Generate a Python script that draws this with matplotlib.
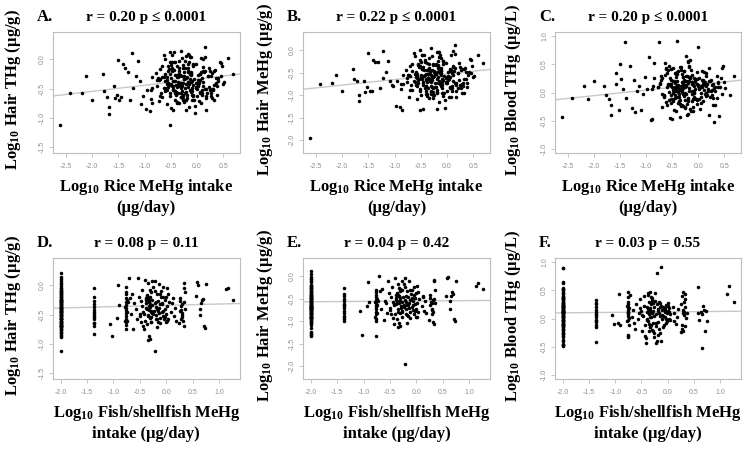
import matplotlib
matplotlib.use("Agg")
import matplotlib.pyplot as plt
from matplotlib.ticker import FormatStrFormatter

# ── data: one entry per subject (log10 values) ───────────────────────────────
rice = [
    -2.62, -2.42, -2.19, -2.12, -2.01, -1.80, -1.78, -1.71, -1.68, -1.68,
    -1.58, -1.57, -1.53, -1.50, -1.48, -1.44, -1.41, -1.38, -1.32, -1.28,
    -1.23, -1.22, -1.17, -1.13, -1.09, -1.06, -1.03,
    -0.52, -0.76, -0.33, -0.12, 0.05, -0.45, -0.27, -0.61, 0.21, -0.38,
    -0.07, -0.69, -0.24, 0.33, -0.52, -0.15, -0.41, -0.88, 0.12, -0.29,
    -0.57, -0.02, -0.98, 0.44, -0.74, -0.19, -0.47, 0.08, -0.36, -0.63,
    -0.09, 0.27, -0.22, -0.95, -0.41, 0.02, -0.55, -0.30, 0.17, -0.90,
    -0.14, -0.49, 0.38, -0.26, -0.78, -0.05, -0.37, 0.11, -0.58, -0.20,
    0.15, 0.52, -0.11, -0.70, -0.31, 0.06, -0.46, -0.17, -0.85, 0.29,
    -0.34, -0.60, -0.03, -0.25, 0.15, -0.51, -0.39, -0.08, -0.72, 0.36,
    -0.28, -0.13, -0.45, 0.00, -0.35,
    -0.42, -0.18, 0.09, -0.58, -0.30, 0.24, -0.66, -0.10, -0.49, 0.40,
    -0.23, -0.37, 0.01,
    -0.20, 0.18, -0.61, -0.05, -0.40,
    -0.22, -0.48, 0.14, -0.35, -0.70, 0.03, -0.15, -0.55, 0.31, -0.42,
    -0.08, -0.27, -0.86, 0.47, -0.32, -0.12, -0.45, 0.10,
    -0.52, -0.18, 0.22, -0.38, -0.02, -0.85, -0.26, 0.05,
    -0.44, -0.10, -0.32, 0.26, -0.58, -0.20, 0.12, -0.47, -0.07, -0.88,
    -0.35, -0.17, 0.06, -0.62, -0.28, 0.35, -0.45, -0.12, -0.73, 0.18,
    -0.39, -0.04, -0.55, -0.21, 0.41, -0.31, -0.66, 0.00, -0.25, -0.48,
    0.23, -0.14, -0.36, -0.09, -0.53, 0.10, -0.29, -0.77, 0.29, -0.19,
    -0.42, -0.02, -0.60, 0.50, -0.24,
    -0.34, 0.02, -0.57, -0.16, 0.00, 0.20, -0.44, -0.27, 0.37, -0.71,
    -0.11, -0.38, 0.08, -0.41, -0.21, -0.30, 0.15, -0.63, -0.08, 0.26,
    -0.52, -0.17, -0.35, 0.04, -0.40,
    -0.26, 0.11, -0.49, -0.13, 0.32, -0.37, -0.02, -0.60, 0.17, -0.23,
    -0.43, 0.06, -0.31, -0.17, 0.45, -0.53, -0.09, 0.25, -0.40, -0.19,
    -0.28, 0.07, -0.45, -0.12, 0.38, -0.66,
    -0.33, 0.01, -0.50, -0.18, 0.28, -0.41, -0.07, -0.26, 0.15, -0.56,
    -0.15, -0.37, 0.09, -0.23, -0.48, 0.04, -0.30, 0.21,
    -0.20, -0.44, 0.12,
    -0.31, 0.31, -0.52, -0.12, 0.32, -0.25, -0.38, 0.60,
    0.45, -0.16, 0.69,
]

fish = [
    -0.22, -2.00, -2.00, -0.73, -2.00, -2.00, -1.37, -2.00, -2.00, -0.35,
    -2.00, -2.00, -0.75, -2.00, -2.00, -1.37, -2.00, -2.00, -0.33, -2.00,
    -2.00, -0.42, -2.00, -0.05, -2.00, -2.00, -0.28,
    -2.00, -2.00, -2.00, -2.00, -2.00, -2.00, -2.00, -2.00, -2.00, -2.00,
    -2.00, -2.00, -2.00, -2.00, -2.00, -2.00, -2.00, -2.00, -2.00, -2.00,
    -2.00, -2.00, -2.00, -2.00, -2.00, -2.00, -2.00, -2.00, -2.00, -2.00,
    -2.00, -2.00, -2.00, -2.00, -2.00, -2.00, -2.00, -2.00, -2.00, -2.00,
    -2.00, -2.00, -2.00, -2.00, -2.00, -2.00, -2.00, -2.00, -2.00, -2.00,
    -2.00, -2.00, -2.00, -2.00, -2.00, -2.00, -2.00, -2.00, -2.00, -2.00,
    -2.00, -2.00, -2.00, -2.00, -2.00, -2.00, -2.00, -2.00, -2.00, -2.00,
    -2.00, -2.00, -2.00, -2.00, -2.00,
    -1.37, -1.37, -1.37, -1.37, -1.37, -1.37, -1.37, -1.37, -1.37, -1.37,
    -1.37, -1.37, -1.37,
    -1.03, -1.07, -0.92, -0.90, -0.94,
    -0.76, -0.76, -0.76, -0.76, -0.76, -0.76, -0.76, -0.76, -0.76, -0.76,
    -0.76, -0.76, -0.76, -0.76, -0.74, -0.74, -0.78, -0.78,
    -0.71, -0.68, -0.65, -0.62, -0.66, -0.60, -0.57, -0.55,
    -0.53, -0.50, -0.48, -0.47, -0.45, -0.44, -0.52, -0.43, -0.46, -0.49,
    -0.42, -0.40, -0.39, -0.38, -0.37, -0.36, -0.35, -0.34, -0.33, -0.33,
    -0.32, -0.31, -0.31, -0.30, -0.30, -0.29, -0.28, -0.28, -0.27, -0.27,
    -0.26, -0.26, -0.38, -0.40, -0.36, -0.34, -0.32, -0.29, -0.35, -0.37,
    -0.31, -0.30, -0.28, -0.33, -0.39,
    -0.24, -0.23, -0.22, -0.21, -0.20, -0.20, -0.19, -0.18, -0.17, -0.16,
    -0.15, -0.14, -0.13, -0.12, -0.12, -0.11, -0.10, -0.24, -0.22, -0.19,
    -0.17, -0.14, -0.11, -0.18, -0.15,
    -0.09, -0.08, -0.07, -0.06, -0.05, -0.04, -0.03, -0.02, -0.01, 0.00,
    0.01, 0.02, 0.03, 0.04, 0.05, -0.06, -0.03, 0.00, 0.02, -0.08,
    0.10, 0.13, 0.15, 0.17, 0.19, 0.12,
    0.27, 0.28, 0.29, 0.30, 0.30, 0.31, 0.32, 0.33, 0.34, 0.35,
    0.26, 0.27, 0.29, 0.31, 0.33, 0.36, 0.25, 0.34,
    0.58, 0.57, 0.60,
    0.64, 0.65, 0.68, 0.70, 0.72, 0.74, 0.66, 0.75,
    1.13, 1.18, 1.27,
]

hair_thg = [
    -1.12, -0.57, -0.58, -0.29, -0.69, -0.25, -0.54, -0.64, -0.82, -0.94,
    -0.45, -0.66, -0.60, -0.01, -0.69, -0.64, -0.07, -0.15, -0.21, -0.70,
    0.11, -0.48, -0.29, -0.03, -0.37, -0.76, -0.62,
    -1.12, -0.35, -0.41, -0.22, -0.55, -0.18, -0.63, -0.48, -0.29, -0.72,
    -0.12, -0.58, -0.33, -0.44, -0.05, -0.81, -0.26, -0.67, -0.39, 0.02,
    -0.52, -0.47, -0.85, -0.04, -0.31, -0.61, -0.20, -0.75, -0.43, 0.08,
    -0.36, -0.57, -0.15, -0.53, -0.69, -0.27, -0.40, 0.15, -0.50, -0.89,
    -0.34, -0.09, -0.46, -0.60, -0.23, -0.70, -0.30, -0.13, -0.77, -0.42,
    0.22, -0.38, -0.56, -0.17, -0.64, -0.24, -0.45, -0.08, -0.49, -0.66,
    -0.19, -0.37, -0.79, -0.28, -0.51, -0.62, -0.11, -0.44, -0.71, -0.32,
    -0.54, 0.05, -0.87, -0.40, -0.25,
    -0.05, -0.20, -0.31, -0.42, -0.48, -0.53, -0.65, -0.70, -0.83, -0.36,
    -0.58, -0.26, -0.45,
    -0.86, -0.66, 0.01, -0.34, -0.55,
    -0.03, -0.15, -0.22, -0.28, -0.33, -0.38, -0.42, -0.47, -0.52, -0.57,
    -0.62, -0.68, -0.74, -0.12, -0.45, -0.25, -0.36, -0.60,
    0.12, -0.21, -0.14, -0.74, -0.48, -0.30, -0.40, -0.58,
    0.12, -0.48, -0.27, -0.62, -0.35, -0.70, -0.19, -0.45, -0.08, -0.53,
    -0.74, 0.10, -0.24, -0.30, -0.41, -0.18, -0.50, 0.04, -0.35, -0.86,
    -0.27, -0.91, -0.20, -0.56, -0.31, -0.44, -0.12, -0.62, -0.33, 0.07,
    -0.47, -0.25, -0.39, -0.60, -0.16, -0.52, -0.29, -0.45, -0.23, -0.66,
    -0.37, -0.08, -0.54, -0.42, -0.21,
    -0.02, -0.43, -0.30, 0.07, -0.50, -0.57, -0.36, -0.14, -0.40, -0.62,
    -0.26, -0.47, 0.03, -0.55, -0.32, -0.65, -0.19, -0.49, -0.09, -0.28,
    -0.58, -0.39, -0.15, -0.71, -0.44,
    -0.10, -0.45, -0.31, -0.53, -0.20, -0.58, -0.40, -0.25, -0.62, -0.48,
    -0.05, -0.35, -0.57, -0.15, -0.28, -0.43, -0.54, -0.19, -0.60, -0.30,
    -0.45, -0.22, -0.52, -0.38, -0.60, -0.30,
    -0.26, -0.35, -0.42, -0.47, -0.50, -0.54, -0.61, -0.70, 0.05, -0.12,
    -0.22, -0.44, -0.57, -0.32, -0.05, -0.40, -0.65, -0.28,
    0.06, -0.18, 0.00,
    -0.41, -0.51, -0.24, -0.23, -0.69, -0.72, -0.30, 0.02,
    -0.06, -0.04, -0.25,
]

hair_mehg = [
    -1.95, -0.75, -0.72, -0.55, -0.90, -0.41, -0.63, -0.69, -1.00, -1.12,
    -0.69, -0.93, -0.82, -0.06, -0.90, -0.91, -0.23, -0.26, -0.27, -0.84,
    -0.02, -0.62, -0.49, -0.24, -0.69, -0.78, -0.80,
    -1.33, -0.62, -0.68, -0.45, -0.83, -0.37, -0.92, -0.71, -0.51, -1.02,
    -0.30, -0.77, -0.58, -0.63, -0.22, -1.15, -0.52, -0.86, -0.55, -0.14,
    -0.80, -0.70, -1.25, -0.19, -0.55, -0.88, -0.41, -1.05, -0.61, -0.06,
    -0.64, -0.81, -0.33, -0.69, -0.98, -0.48, -0.66, 0.04, -0.74, -1.27,
    -0.50, -0.27, -0.73, -0.85, -0.44, -0.96, -0.53, -0.35, -1.08, -0.65,
    0.12, -0.57, -0.79, -0.36, -0.90, -0.47, -0.71, -0.25, -0.75, -0.94,
    -0.39, -0.59, -1.28, -0.46, -0.72, -0.91, -0.29, -0.67, -1.04, -0.49,
    -0.82, -0.10, -1.31, -0.60, -0.43,
    -0.27, -0.40, -0.50, -0.62, -0.70, -0.78, -0.88, -0.95, -1.00, -0.55,
    -0.82, -0.45, -0.66,
    -1.30, -0.78, -0.13, -0.58, -0.67,
    -0.30, -0.41, -0.47, -0.52, -0.58, -0.63, -0.69, -0.74, -0.79, -0.85,
    -0.95, -1.00, -1.33, -0.35, -0.64, -0.50, -0.57, -0.90,
    0.00, -0.33, -0.28, -0.98, -0.72, -0.55, -0.60, -0.81,
    -0.12, -0.70, -0.46, -0.85, -0.57, -0.93, -0.37, -0.63, -0.25, -0.76,
    -1.07, -0.05, -0.42, -0.52, -0.60, -0.39, -0.74, -0.18, -0.55, -1.03,
    -0.44, -1.10, -0.33, -0.81, -0.48, -0.66, -0.30, -0.90, -0.58, -0.10,
    -0.67, -0.47, -0.62, -0.84, -0.38, -0.80, -0.45, -0.71, -0.43, -0.95,
    -0.56, -0.29, -0.78, -0.60, -0.49,
    -0.18, -0.65, -0.52, -0.05, -0.72, -0.83, -0.58, -0.33, -0.63, -0.88,
    -0.47, -0.70, -0.12, -0.80, -0.53, -0.92, -0.40, -0.68, -0.24, -0.45,
    -0.87, -0.59, -0.31, -1.05, -0.64,
    -0.30, -0.68, -0.55, -0.75, -0.43, -0.84, -0.61, -0.48, -0.90, -0.72,
    -0.22, -0.59, -0.80, -0.36, -0.50, -0.65, -0.78, -0.38, -0.91, -0.49,
    -0.66, -0.44, -0.77, -0.55, -0.82, -0.47,
    -0.48, -0.58, -0.60, -0.72, -0.75, -0.80, -1.02, -1.06, -0.08, -0.30,
    -0.42, -0.63, -0.85, -0.54, -0.10, -0.60, -0.97, -0.51,
    -0.05, -0.45, -0.03,
    -0.55, -0.72, -0.35, -0.40, -0.95, -1.00, -0.45, -0.12,
    -0.23, -0.15, -0.28,
]

blood_thg = [
    -0.43, -0.09, 0.11, -0.11, 0.21, 0.11, -0.05, -0.12, -0.41, -0.22,
    0.16, 0.35, -0.31, 0.50, 0.24, 0.06, 0.90, -0.09, 0.47, -0.28,
    0.22, -0.34, 0.03, 0.12, -0.31, -0.02, 0.28,
    -0.05, 0.91, 0.12, 0.31, -0.08, 0.05, 0.22, -0.17, 0.44, 0.01,
    0.18, -0.26, 0.65, 0.09, -0.11, 0.27, 0.36, -0.47, 0.14, -0.02,
    0.48, -0.21, 0.07, 0.25, 0.17, -0.38, 0.03, 0.39, -0.14, 0.52,
    0.11, -0.04, 0.21, 0.63, 0.33, 0.06, -0.45, 0.28, 0.15, -0.49,
    0.41, 0.00, 0.19, -0.28, 0.10, 0.24, -0.16, 0.37, 0.13, 0.55,
    -0.06, 0.08, -0.33, 0.26, 0.04, -0.19, 0.20, 0.46, 0.53, 0.16,
    -0.24, 0.34, -0.13, 0.09, 0.29, -0.48, 0.14, 0.02, 0.23, -0.10,
    0.38, -0.03, 0.18, 0.12, -0.20,
    0.33, 0.28, 0.21, 0.15, 0.08, 0.02, -0.06, -0.12, -0.16, -0.42,
    0.12, -0.03, 0.25,
    -0.10, 0.07, 0.44, -0.12, -0.08,
    0.30, 0.20, 0.12, 0.05, -0.02, 0.10, -0.30, 0.15, 0.08, -0.33,
    0.25, 0.38, 0.11, 0.47, 0.01, 0.18, -0.05, 0.22,
    0.42, 0.03, -0.08, -0.18, 0.15, 0.26, -0.01, 0.10,
    0.35, 0.13, -0.22, 0.05, 0.40, -0.12, 0.18, -0.31, 0.22, 0.07,
    -0.44, 0.20, 0.11, 0.42, -0.05, 0.30, 0.08, -0.15, 0.16, 0.02,
    0.38, -0.12, 0.26, -0.20, 0.10, 0.33, -0.08, 0.14, -0.25, 0.05,
    0.21, -0.33, 0.45, 0.00, 0.12, -0.16, 0.28, 0.09, -0.10, 0.17,
    0.03, 0.36, -0.22, 0.19, -0.02,
    0.45, 0.08, -0.14, 0.25, 0.81, -0.41, 0.17, -0.06, 0.10, 0.30,
    -0.25, 0.04, 0.22, 0.92, -0.41, 0.15, 0.00, 0.32, -0.08, 0.13,
    -0.18, 0.27, 0.06, -0.30, 0.20,
    0.21, 0.05, -0.12, 0.18, 0.02, -0.08, 0.24, 0.10, -0.05, 0.13,
    0.28, -0.01, 0.19, 0.08, -0.03, 0.15, 0.00, 0.23, 0.11, -0.15,
    0.21, 0.09, -0.10, 0.03, 0.17, -0.04,
    0.40, -0.11, 0.10, 0.48, -0.22, 0.12, 0.06, -0.13, 0.35, 0.01,
    0.25, -0.18, 0.15, 0.30, 0.44, 0.09, -0.24, 0.20,
    0.56, 0.10, -0.02,
    0.12, -0.53, 0.22, 0.15, -0.22, 0.13, 0.08, -0.05,
    0.44, 0.58, 0.30,
]

# fitted lines as drawn in the figure: (intercept, slope)
fits = [(-0.336, 0.105), (-0.53, 0.123), (0.14, 0.098),
        (-0.34, 0.0225), (-0.552, 0.0085), (0.118, 0.0085)]
stats = ["r = 0.20 p \u2264 0.0001", "r = 0.22 p \u2264 0.0001", "r = 0.20 p \u2264 0.0001",
         "r = 0.08 p = 0.11", "r = 0.04 p = 0.42", "r = 0.03 p = 0.55"]
letters = ["A.", "B.", "C.", "D.", "E.", "F."]
ylabels = [r"Log$_{10}$ Hair THg (µg/g)", r"Log$_{10}$ Hair MeHg (µg/g)",
           r"Log$_{10}$ Blood THg (µg/L)"]
xlabels = [(r"Log$_{10}$ Rice MeHg intake", "(µg/day)"),
           (r"Log$_{10}$ Fish/shellfish MeHg", "intake (µg/day)")]

# ── style ─────────────────────────────────────────────────────────────────────
plt.rcParams.update({
    "font.family": ["Liberation Serif", "DejaVu Serif"],
    "mathtext.fontset": "custom",
    "mathtext.rm": "Liberation Serif:bold",
    "mathtext.bf": "Liberation Serif:bold",
    "mathtext.default": "rm",
    "axes.unicode_minus": False,
})
GRID = "#bdbdbd"
TICKC = "#8f8f8f"
W, H = 754, 451
fig = plt.figure(figsize=(W / 100, H / 100), dpi=100)


def rect(l, t, r, b):
    return [l / W, 1 - b / H, (r - l) / W, (b - t) / H]


COLS = [(52.7, 240), (303, 490), (555, 741)]
ROWS = [(32, 153), (258, 379)]
YLAB_X = [13, 265, 513]
xdata = [rice, fish]
ydata = [hair_thg, hair_mehg, blood_thg]
xlims = [(-2.75, 0.82), (-2.15, 1.40)]
xticks = [[-2.5, -2.0, -1.5, -1.0, -0.5, 0.0, 0.5], [-2.0, -1.5, -1.0, -0.5, 0.0, 0.5, 1.0]]
ylims = [(-1.6, 0.47), (-2.28, 0.40), (-1.08, 1.08)]
yticks = [[-1.5, -1.0, -0.5, 0.0], [-2.0, -1.5, -1.0, -0.5, 0.0],
          [-1.0, -0.5, 0.0, 0.5, 1.0]]

for r, (top, bot) in enumerate(ROWS):
    for c, (lft, rgt) in enumerate(COLS):
        k = r * 3 + c
        ax = fig.add_axes(rect(lft, top, rgt, bot))
        ax.scatter(xdata[r], ydata[c], s=6.5, c="black", linewidths=0, zorder=3)
        a, b = fits[k]
        ax.axline((0, a), slope=b, color="#c8c8c8", lw=1.0, zorder=2)
        ax.set_xlim(*xlims[r])
        ax.set_ylim(*ylims[c])
        ax.set_xticks(xticks[r])
        ax.set_yticks(yticks[c])
        ax.xaxis.set_major_formatter(FormatStrFormatter("%.1f"))
        ax.yaxis.set_major_formatter(FormatStrFormatter("%.1f"))
        ax.tick_params(length=3, width=0.6, color=GRID, labelcolor=TICKC,
                       labelsize=5, labelfontfamily="Liberation Sans")
        ax.tick_params(axis="x", pad=4)
        ax.tick_params(axis="y", pad=2)
        for lbl in ax.get_yticklabels():
            lbl.set_rotation(90)
            lbl.set_va("center")
        for sp in ax.spines.values():
            sp.set_color(GRID)
            sp.set_linewidth(0.8)

        cx = (lft + rgt) / 2
        fig.text(cx / W, 1 - (top - 14) / H, stats[k], ha="center", va="center",
                 fontsize=11, fontweight="bold")
        fig.text((lft - 16) / W, 1 - (top - 15) / H, letters[k], ha="left",
                 va="center", fontsize=12, fontweight="bold")
        fig.text(YLAB_X[c] / W, 1 - ((top + bot) / 2 - 3) / H, ylabels[c],
                 rotation=90, ha="center", va="center", fontsize=12, fontweight="bold")
        l1, l2 = xlabels[r]
        fig.text(cx / W, 1 - (bot + 34) / H, l1, ha="center", va="center",
                 fontsize=12, fontweight="bold")
        fig.text(cx / W, 1 - (bot + 55) / H, l2, ha="center", va="center",
                 fontsize=12, fontweight="bold")

fig.savefig("out.png", dpi=100)
